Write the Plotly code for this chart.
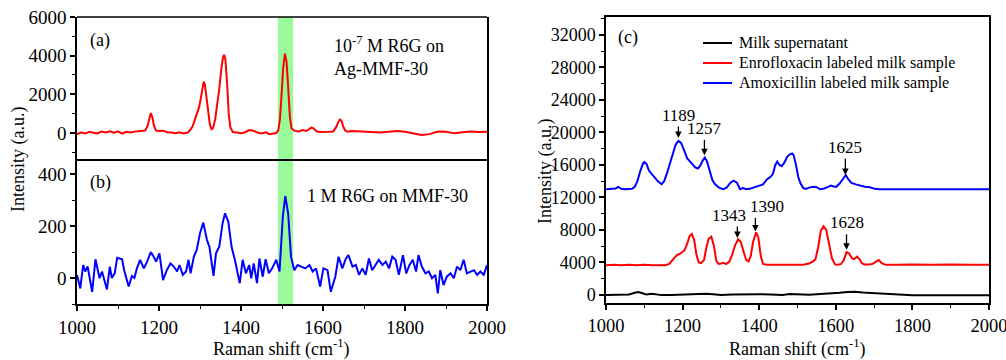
import plotly.graph_objects as go

# ---------------- data ----------------
# Panel (a): 10^-7 M R6G on Ag-MMF-30
a_x = [1000,1010,1020,1030,1040,1050,1060,1070,1080,1090,1100,1110,1120,1130,1140,1150,1160,1166,1172,1176,1180,1184,1188,1193,1200,
       1210,1220,1230,1240,1250,1260,1270,1276,1282,1288,1294,1298,1302,1306,1309,1312,1316,1320,1324,1328,1332,1337,1342,1347,1352,
       1356,1359,1362,1366,1370,1374,1380,1390,1400,1410,1420,1430,1440,1450,1460,1470,1480,1486,1491,1495,1499,1503,1507,1511,1515,
       1519,1523,1530,1540,1550,1560,1566,1572,1578,1585,1595,1605,1615,1625,1632,1637,1641,1645,1649,1654,1660,1670,1680,1700,1720,
       1740,1760,1780,1800,1820,1840,1860,1880,1900,1920,1940,1960,1980,2000]
a_y = [-60,20,-30,60,10,-20,70,30,90,20,80,-30,60,20,70,90,110,130,350,750,1030,800,350,120,100,
       120,40,20,-10,30,-30,20,150,350,700,1150,1350,1800,2400,2650,2500,1800,950,450,200,260,700,1400,2300,3300,
       3900,4050,3800,2600,1000,300,50,20,-10,40,150,120,20,-20,30,-60,-30,0,150,700,2000,3400,4100,3700,2400,
       900,250,120,80,150,100,200,290,220,80,50,40,60,80,300,550,690,650,350,130,60,100,90,80,60,
       30,60,100,60,-20,-100,-60,80,60,-20,40,70,50,60]

# Panel (b): 1 M R6G on MMF-30
b_x = [1000,1008,1015,1020,1026,1033,1037,1045,1050,1055,1061,1073,1080,1085,1092,1098,1110,1115,1126,1134,1140,1146,1154,1163,1171,
       1180,1187,1193,1201,1210,1219,1228,1236,1244,1250,1258,1266,1272,1277,1285,1292,1300,1308,1317,1323,1328,1333,1339,1347,1355,
       1361,1369,1377,1385,1391,1397,1404,1412,1420,1425,1431,1439,1445,1453,1460,1468,1476,1486,1494,1502,1508,1515,1522,1530,1538,
       1546,1557,1567,1575,1583,1593,1601,1611,1619,1630,1638,1647,1656,1662,1672,1680,1688,1696,1704,1712,1720,1728,1736,1745,1753,
       1761,1769,1777,1785,1795,1803,1811,1819,1827,1833,1841,1850,1858,1866,1874,1880,1886,1894,1902,1911,1919,1927,1935,1943,1951,
       1960,1968,1976,1984,1992,2000]
b_y = [12,-40,50,25,44,-20,-53,72,30,-1,25,-44,44,0,18,78,72,30,-33,8,0,37,70,37,63,
       100,82,63,95,-8,30,56,44,25,50,12,25,70,18,82,108,172,213,146,120,70,8,95,120,210,
       249,217,120,70,18,-20,70,18,50,-1,56,-20,75,5,72,18,37,70,25,236,315,249,82,30,50,
       44,37,50,25,37,-33,37,30,-53,5,82,37,75,88,44,50,12,37,12,75,30,50,70,50,63,
       37,82,70,12,88,18,50,70,25,88,44,18,25,-1,12,-59,30,-27,5,18,-1,44,30,70,18,
       25,30,12,25,12,50]

# Panel (c)
milk_x = [1000,1020,1040,1060,1075,1085,1095,1105,1120,1130,1145,1170,1200,1230,1260,1280,1300,1330,1360,1400,1430,1460,1480,1500,
          1530,1560,1590,1610,1630,1650,1670,1700,1730,1760,1800,1850,1900,1950,2000]
milk_y = [0,30,0,50,250,350,200,50,150,80,-30,0,50,60,150,80,0,60,100,80,50,0,100,50,
          30,100,150,250,350,380,300,200,100,0,-50,-60,-50,-40,-50]

enro_x = [1000,1020,1040,1060,1080,1100,1120,1140,1155,1165,1175,1185,1195,1205,1212,1218,1224,1230,1236,1242,1248,1256,1262,1268,
          1275,1282,1288,1294,1300,1307,1314,1322,1330,1337,1345,1352,1360,1366,1372,1378,1384,1392,1398,1404,1410,1420,1440,1460,
          1480,1500,1515,1530,1540,1547,1554,1561,1568,1575,1582,1590,1598,1606,1614,1621,1628,1635,1642,1648,1655,1662,1668,1675,
          1685,1695,1705,1712,1720,1730,1760,1800,1850,1900,1950,2000]
enro_y = [3650,3700,3650,3700,3650,3700,3650,3700,3650,3800,4300,4900,5100,5500,6300,7200,7480,6800,5000,4000,3900,4300,5800,6900,
          7150,6000,4200,3800,3850,3950,3800,4100,5000,6100,6850,6500,5200,4300,4100,4800,6500,7700,7000,4800,3800,3700,3700,3700,
          3650,3700,3700,3850,4100,4400,5900,7900,8450,8000,6400,4500,3750,3700,3800,4300,5250,5100,4500,4400,4700,4400,3900,3750,
          3750,3800,4100,4300,3900,3700,3700,3750,3700,3750,3700,3700]

amox_x = [1000,1015,1025,1032,1040,1050,1060,1068,1075,1082,1090,1096,1100,1106,1112,1119,1126,1135,1145,1152,1160,1168,1175,1182,
          1189,1196,1204,1212,1218,1226,1233,1240,1246,1252,1258,1264,1270,1278,1285,1295,1306,1315,1325,1333,1342,1350,1358,1366,
          1375,1385,1395,1402,1410,1420,1429,1436,1442,1447,1453,1459,1466,1473,1480,1486,1490,1496,1502,1508,1515,1522,1530,1541,
          1550,1559,1570,1580,1587,1595,1601,1610,1618,1626,1633,1641,1652,1663,1676,1689,1702,1715,1740,1780,1820,1860,1900,1950,2000]
amox_y = [13000,13050,13100,13300,13050,13000,13000,13050,13300,14000,15300,16100,16350,16100,15300,14900,14400,14000,13620,14000,
          15100,16400,17500,18500,18950,18700,17800,16800,16500,16100,15700,15550,15900,16500,16900,16400,15300,14100,13600,13200,
          13000,13200,13800,14050,13800,13000,13150,13000,13050,13200,13300,13400,13600,14200,14500,14900,16000,16400,16000,15850,
          16300,17000,17300,17400,17200,16000,14500,13700,13150,13050,13200,13300,13250,13000,13100,13300,13450,13350,13300,13700,
          14300,14750,14200,13780,13600,13450,13300,13250,13050,13000,13000,13000,13050,13000,13000,13050,13000]

series_names = ["Milk supernatant", "Enrofloxacin labeled milk sample", "Amoxicillin labeled milk sample"]
series_colors = ["#000000", "#ff0000", "#0000ff"]

# peak labels in panel (c)
peak_labels = ["1189", "1257", "1625", "1343", "1390", "1628"]
peak_x = [1189, 1257, 1625, 1343, 1390, 1628]
peak_tip_y = [19300, 17200, 14750, 7000, 7800, 5550]
arrow_len = [13, 17, 18, 13, 15, 17]
text_dx = [0, 0, 0, -8, 12, 0]

band = [1490, 1527]

x_ticks = [1000, 1200, 1400, 1600, 1800, 2000]
a_ticks = [0, 2000, 4000, 6000]
b_ticks = [0, 200, 400]
c_ticks = [0, 4000, 8000, 12000, 16000, 20000, 24000, 28000, 32000]

# ---------------- figure ----------------
FONT = "Liberation Serif"
W, H = 1006, 360

def px_x(p):
    return p / W

def px_y(p):
    return 1 - p / H

fig = go.Figure()
fig.add_trace(go.Scatter(x=a_x, y=a_y, mode="lines", line=dict(color="#ff0000", width=2), xaxis="x", yaxis="y", showlegend=False))
fig.add_trace(go.Scatter(x=b_x, y=b_y, mode="lines", line=dict(color="#0000ff", width=2), xaxis="x2", yaxis="y2", showlegend=False))
for nm, col, xs, ys in zip(series_names, series_colors, [milk_x, enro_x, amox_x], [milk_y, enro_y, amox_y]):
    fig.add_trace(go.Scatter(x=xs, y=ys, mode="lines", name=nm, line=dict(color=col, width=2),
                             xaxis="x3", yaxis="y3", showlegend=False))

def axis_common(size):
    return dict(showline=True, linecolor="black", linewidth=1.5, mirror=True, ticklen=5, automargin=False,
                tickwidth=1.5, tickcolor="black", showgrid=False, zeroline=False,
                tickfont=dict(family=FONT, size=size, color="black"), ticklabeloverflow="allow",
                exponentformat="none", separatethousands=False)

def minor(d):
    return dict(ticks="outside", ticklen=3, tickwidth=1.2, tickcolor="black", dtick=d, tick0=0, showgrid=False)

dom_lr = [px_x(77), px_x(487)]
dom_c = [px_x(606), px_x(989)]

xa = axis_common(19)
xa.update(showline=False, mirror=False)

fig.update_layout(
    width=W, height=H, margin=dict(l=0, r=0, t=0, b=0, autoexpand=False),
    paper_bgcolor="white", plot_bgcolor="white",
    font=dict(family=FONT, color="black"),
    showlegend=False,
    xaxis=dict(domain=dom_lr, anchor="y", range=[1000, 2000], showticklabels=False, ticks="", **xa),
    yaxis=dict(domain=[px_y(161), px_y(17)], anchor="x", range=[-1450, 6000], tickvals=a_ticks, ticks="outside",
               minor=minor(1000), **axis_common(19)),
    xaxis2=dict(domain=dom_lr, anchor="y2", range=[1000, 2000], tickvals=x_ticks, ticks="outside",
                minor=minor(100), **axis_common(19)),
    yaxis2=dict(domain=[px_y(304), px_y(161)], anchor="x2", range=[-100, 450], tickvals=b_ticks, ticks="outside",
                minor=minor(100), **axis_common(19)),
    xaxis3=dict(domain=dom_c, anchor="y3", range=[1000, 2000], tickvals=x_ticks, ticks="outside",
                minor=minor(100), **axis_common(18.5)),
    yaxis3=dict(domain=[px_y(303), px_y(17)], anchor="x3", range=[-1000, 34200], tickvals=c_ticks, ticks="outside",
                ticktext=[str(v) for v in c_ticks], minor=minor(2000), **axis_common(18)),
)

# top border of panel (a)
fig.add_shape(type="line", xref="x domain", yref="y domain", x0=0, x1=1, y0=1, y1=1,
              line=dict(color="black", width=1.5))

# green highlight band across panels (a) and (b)
for xr, yr in (("x", "y domain"), ("x2", "y2 domain")):
    fig.add_shape(type="rect", xref=xr, yref=yr, x0=band[0], x1=band[1], y0=0, y1=1,
                  fillcolor="#99fa99", line=dict(width=0), layer="below")

def ann(text, x, y, size=18, **kw):
    fig.add_annotation(text=text, x=x, y=y, xref="paper", yref="paper", showarrow=False,
                       font=dict(family=FONT, size=size, color="black"), **kw)

ann("(a)", px_x(88), px_y(40), xanchor="left", yanchor="middle")
ann("10<sup>-7</sup> M R6G on<br>Ag-MMF-30", px_x(332), px_y(56), xanchor="left", yanchor="middle", align="left")
ann("(b)", px_x(88), px_y(182), xanchor="left", yanchor="middle")
ann("1 M R6G on MMF-30", px_x(305), px_y(196), xanchor="left", yanchor="middle")
ann("(c)", px_x(616), px_y(38), xanchor="left", yanchor="middle")
ann("Intensity (a.u.)", px_x(18), px_y(160), textangle=-90, xanchor="center", yanchor="middle")
ann("Intensity (a.u.)", px_x(545), px_y(172), textangle=-90, xanchor="center", yanchor="middle")
ann("Raman shift (cm<sup>-1</sup>)", px_x(281), px_y(348), xanchor="center", yanchor="middle")
ann("Raman shift (cm<sup>-1</sup>)", px_x(797), px_y(348), xanchor="center", yanchor="middle")

# legend of panel (c)
leg_rows = [43, 63, 83]
for nm, col, yy in zip(series_names, series_colors, leg_rows):
    fig.add_shape(type="line", xref="paper", yref="paper", x0=px_x(703), x1=px_x(732), y0=px_y(yy), y1=px_y(yy),
                  line=dict(color=col, width=2))
    ann(nm, px_x(737), px_y(yy), size=16, xanchor="left", yanchor="middle")

# peak arrows and labels in panel (c)
for lab, xv, yv, L, dx in zip(peak_labels, peak_x, peak_tip_y, arrow_len, text_dx):
    fig.add_annotation(x=xv, y=yv, xref="x3", yref="y3", text="", showarrow=True,
                       ax=0, ay=-L, arrowhead=2, arrowsize=1, arrowwidth=1.3, arrowcolor="black")
    fig.add_annotation(x=xv, y=yv, xref="x3", yref="y3", text=lab, showarrow=False,
                       yshift=L + 10, xshift=dx, font=dict(family=FONT, size=17, color="black"))

fig.write_html("out.html", config=dict(displayModeBar=False),
               post_script="document.body.style.margin='0px';")
